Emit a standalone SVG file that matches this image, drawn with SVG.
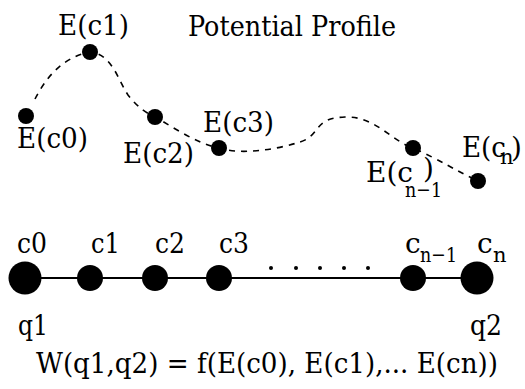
<svg xmlns="http://www.w3.org/2000/svg" width="525" height="389" viewBox="0 0 525 389">
<style>
text{font-family:"DejaVu Serif",serif;font-size:28px;fill:#000}
.sub{font-size:21px}
.dash{fill:none;stroke:#000;stroke-width:1.6;stroke-dasharray:6 6}
.line{stroke:#000;stroke-width:2}
</style>
<rect width="525" height="389" fill="#fff"/>
<text x="188" y="36" textLength="208" lengthAdjust="spacingAndGlyphs">Potential Profile</text>
<g id="connectors">
<path class="dash" d="M35,99 C45,80 60,58 90,52 C112,54 118,80 128,95 C138,108 148,114 155,117 C175,128 195,143 219,148 C240,155 275,150 300,142 C322,135 312,118 345,117 C375,116 390,140 413,148 C440,160 455,170 472,178"/>
<line class="line" x1="25" y1="278" x2="477" y2="278"/>
</g>
<g id="E0"><circle cx="26" cy="116" r="8"/><text x="17" y="148" textLength="71" lengthAdjust="spacingAndGlyphs">E(c0)</text></g>
<g id="E1"><circle cx="90" cy="52" r="8"/><text x="58" y="35" textLength="71" lengthAdjust="spacingAndGlyphs">E(c1)</text></g>
<g id="E2"><circle cx="155" cy="117" r="8"/><text x="123" y="163" textLength="71" lengthAdjust="spacingAndGlyphs">E(c2)</text></g>
<g id="E3"><circle cx="219" cy="148" r="8"/><text x="203" y="132" textLength="71" lengthAdjust="spacingAndGlyphs">E(c3)</text></g>
<g id="En1"><circle cx="413" cy="148" r="8"/><text x="366" y="182" textLength="47" lengthAdjust="spacingAndGlyphs">E(c</text><text x="423" y="178">)</text><text class="sub" x="405" y="197" textLength="37" lengthAdjust="spacingAndGlyphs">n−1</text></g>
<g id="En"><circle cx="478" cy="181" r="8"/><text x="462" y="157" textLength="44" lengthAdjust="spacingAndGlyphs">E(c</text><text class="sub" x="500" y="164">n</text><text x="511" y="157">)</text></g>
<g id="c0"><circle cx="25" cy="278" r="16.5"/><text x="17" y="253" textLength="30" lengthAdjust="spacingAndGlyphs">c0</text><text x="18" y="335" textLength="30" lengthAdjust="spacingAndGlyphs">q1</text></g>
<g id="c1"><circle cx="90" cy="278" r="13"/><text x="91" y="253" textLength="29" lengthAdjust="spacingAndGlyphs">c1</text></g>
<g id="c2"><circle cx="155" cy="278" r="13"/><text x="155" y="253" textLength="30" lengthAdjust="spacingAndGlyphs">c2</text></g>
<g id="c3"><circle cx="219" cy="278" r="13"/><text x="219" y="253" textLength="30" lengthAdjust="spacingAndGlyphs">c3</text></g>
<g id="dots"><circle cx="271" cy="268" r="2"/><circle cx="296" cy="268" r="2"/><circle cx="320" cy="268" r="2"/><circle cx="344" cy="268" r="2"/><circle cx="368" cy="268" r="2"/></g>
<g id="cn1"><circle cx="413" cy="278" r="13"/><text x="405" y="253">c</text><text class="sub" x="420" y="262" textLength="37" lengthAdjust="spacingAndGlyphs">n−1</text></g>
<g id="cn"><circle cx="477" cy="278" r="16.5"/><text x="477" y="253">c</text><text class="sub" x="493" y="262">n</text><text x="470" y="335" textLength="32" lengthAdjust="spacingAndGlyphs">q2</text></g>
<text x="36" y="373" textLength="462" lengthAdjust="spacingAndGlyphs">W(q1,q2) = f(E(c0), E(c1),... E(cn))</text>
</svg>
